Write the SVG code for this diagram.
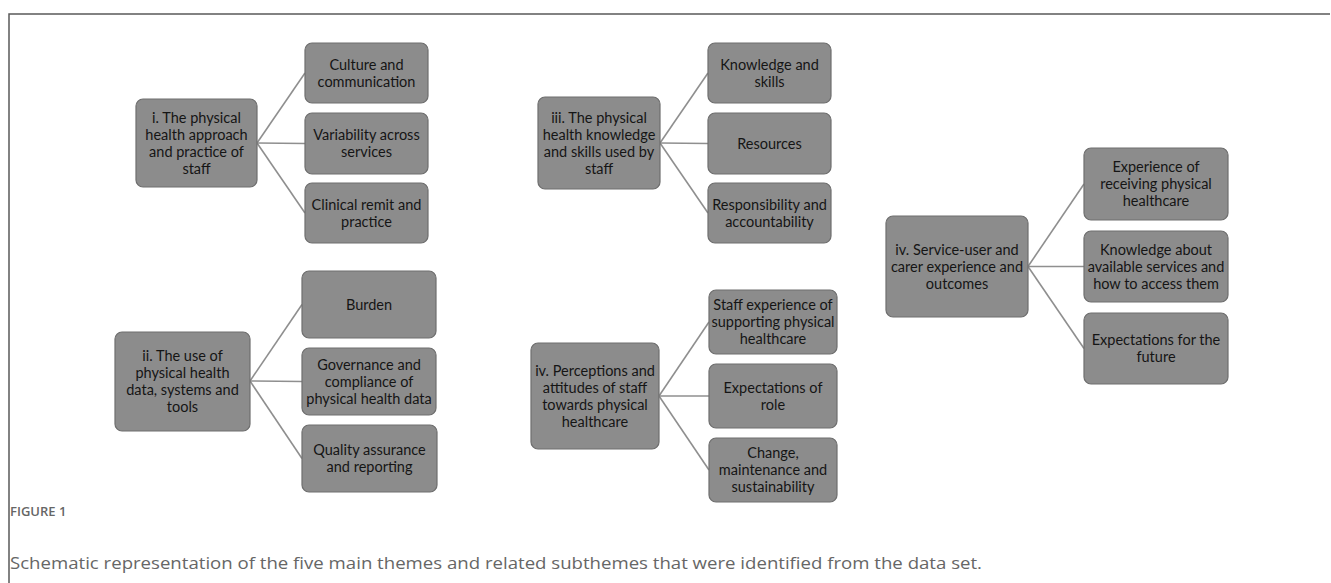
<svg xmlns="http://www.w3.org/2000/svg" width="1331" height="583" viewBox="0 0 1331 583">
<style>
.box{fill:#8c8c8c;stroke:#6e6e6e;stroke-width:1.2}
.t{font-family:Lato,"Open Sans","Liberation Sans",sans-serif;font-size:14.5px;fill:#151515;text-anchor:middle}
.c line{stroke:#8f8f8f;stroke-width:1.6}
.cap{font-family:"Open Sans","Liberation Sans",sans-serif;fill:#666}
</style>
<rect width="1331" height="583" fill="#fff"/>
<path d="M9,583 V14 H1330" fill="none" stroke="#5a5a5a" stroke-width="1.5"/>
<g class="c" id="connectors">
<line x1="257" y1="143" x2="305" y2="73"/><line x1="257" y1="143" x2="305" y2="143.5"/><line x1="257" y1="143" x2="305" y2="213"/>
<line x1="250" y1="381" x2="302" y2="304.5"/><line x1="250" y1="381" x2="302" y2="381.5"/><line x1="250" y1="381" x2="302" y2="458.5"/>
<line x1="660" y1="143" x2="708" y2="73"/><line x1="660" y1="143" x2="708" y2="143.5"/><line x1="660" y1="143" x2="708" y2="213"/>
<line x1="659" y1="396" x2="709" y2="322"/><line x1="659" y1="396" x2="709" y2="396"/><line x1="659" y1="396" x2="709" y2="470"/>
<line x1="1028" y1="266.5" x2="1084" y2="184"/><line x1="1028" y1="266.5" x2="1084" y2="266.5"/><line x1="1028" y1="266.5" x2="1084" y2="348.5"/>
</g>
<g id="t1"><rect class="box" x="136" y="99" width="121" height="88" rx="7"/><text class="t" x="196.5" y="123"><tspan x="196.5">i. The physical</tspan><tspan x="196.5" dy="17">health approach</tspan><tspan x="196.5" dy="17">and practice of</tspan><tspan x="196.5" dy="17">staff</tspan></text></g>
<g id="s1a"><rect class="box" x="305" y="43" width="123" height="60" rx="7"/><text class="t" x="366.5" y="69.5"><tspan x="366.5">Culture and</tspan><tspan x="366.5" dy="17">communication</tspan></text></g>
<g id="s1b"><rect class="box" x="305" y="113" width="123" height="61" rx="7"/><text class="t" x="366.5" y="140"><tspan x="366.5">Variability across</tspan><tspan x="366.5" dy="17">services</tspan></text></g>
<g id="s1c"><rect class="box" x="305" y="183" width="123" height="60" rx="7"/><text class="t" x="366.5" y="209.5"><tspan x="366.5">Clinical remit and</tspan><tspan x="366.5" dy="17">practice</tspan></text></g>
<g id="t2"><rect class="box" x="115" y="332" width="135" height="99" rx="7"/><text class="t" x="182.5" y="361"><tspan x="182.5">ii. The use of</tspan><tspan x="182.5" dy="17">physical health</tspan><tspan x="182.5" dy="17">data, systems and</tspan><tspan x="182.5" dy="17">tools</tspan></text></g>
<g id="s2a"><rect class="box" x="302" y="271" width="134" height="67" rx="7"/><text class="t" x="369" y="309.5">Burden</text></g>
<g id="s2b"><rect class="box" x="302" y="348" width="134" height="67" rx="7"/><text class="t" x="369" y="369.5"><tspan x="369">Governance and</tspan><tspan x="369" dy="17">compliance of</tspan><tspan x="369" dy="17">physical health data</tspan></text></g>
<g id="s2c"><rect class="box" x="302" y="425" width="135" height="67" rx="7"/><text class="t" x="369.5" y="455"><tspan x="369.5">Quality assurance</tspan><tspan x="369.5" dy="17">and reporting</tspan></text></g>
<g id="t3"><rect class="box" x="538" y="97" width="122" height="92" rx="7"/><text class="t" x="599" y="123"><tspan x="599">iii. The physical</tspan><tspan x="599" dy="17">health knowledge</tspan><tspan x="599" dy="17">and skills used by</tspan><tspan x="599" dy="17">staff</tspan></text></g>
<g id="s3a"><rect class="box" x="708" y="43" width="123" height="60" rx="7"/><text class="t" x="769.5" y="69.5"><tspan x="769.5">Knowledge and</tspan><tspan x="769.5" dy="17">skills</tspan></text></g>
<g id="s3b"><rect class="box" x="708" y="113" width="123" height="61" rx="7"/><text class="t" x="769.5" y="148.5">Resources</text></g>
<g id="s3c"><rect class="box" x="708" y="183" width="123" height="60" rx="7"/><text class="t" x="769.5" y="209.5"><tspan x="769.5">Responsibility and</tspan><tspan x="769.5" dy="17">accountability</tspan></text></g>
<g id="t4"><rect class="box" x="531" y="343" width="128" height="106" rx="7"/><text class="t" x="595" y="376"><tspan x="595">iv. Perceptions and</tspan><tspan x="595" dy="17">attitudes of staff</tspan><tspan x="595" dy="17">towards physical</tspan><tspan x="595" dy="17">healthcare</tspan></text></g>
<g id="s4a"><rect class="box" x="709" y="290" width="128" height="64" rx="7"/><text class="t" x="773" y="310"><tspan x="773">Staff experience of</tspan><tspan x="773" dy="17">supporting physical</tspan><tspan x="773" dy="17">healthcare</tspan></text></g>
<g id="s4b"><rect class="box" x="709" y="364" width="128" height="64" rx="7"/><text class="t" x="773" y="392.5"><tspan x="773">Expectations of</tspan><tspan x="773" dy="17">role</tspan></text></g>
<g id="s4c"><rect class="box" x="709" y="438" width="128" height="64" rx="7"/><text class="t" x="773" y="458"><tspan x="773">Change,</tspan><tspan x="773" dy="17">maintenance and</tspan><tspan x="773" dy="17">sustainability</tspan></text></g>
<g id="t5"><rect class="box" x="886" y="216" width="142" height="101" rx="7"/><text class="t" x="957" y="254.5"><tspan x="957">iv. Service-user and</tspan><tspan x="957" dy="17">carer experience and</tspan><tspan x="957" dy="17">outcomes</tspan></text></g>
<g id="s5a"><rect class="box" x="1084" y="148" width="144" height="72" rx="7"/><text class="t" x="1156" y="172"><tspan x="1156">Experience of</tspan><tspan x="1156" dy="17">receiving physical</tspan><tspan x="1156" dy="17">healthcare</tspan></text></g>
<g id="s5b"><rect class="box" x="1084" y="231" width="144" height="71" rx="7"/><text class="t" x="1156" y="254.5"><tspan x="1156">Knowledge about</tspan><tspan x="1156" dy="17">available services and</tspan><tspan x="1156" dy="17">how to access them</tspan></text></g>
<g id="s5c"><rect class="box" x="1084" y="313" width="144" height="71" rx="7"/><text class="t" x="1156" y="345"><tspan x="1156">Expectations for the</tspan><tspan x="1156" dy="17">future</tspan></text></g>
<text class="cap" x="10" y="516" font-size="13" font-weight="600">FIGURE 1</text>
<text class="cap" x="10" y="569" font-size="16" textLength="972" lengthAdjust="spacingAndGlyphs">Schematic representation of the five main themes and related subthemes that were identified from the data set.</text>
</svg>
